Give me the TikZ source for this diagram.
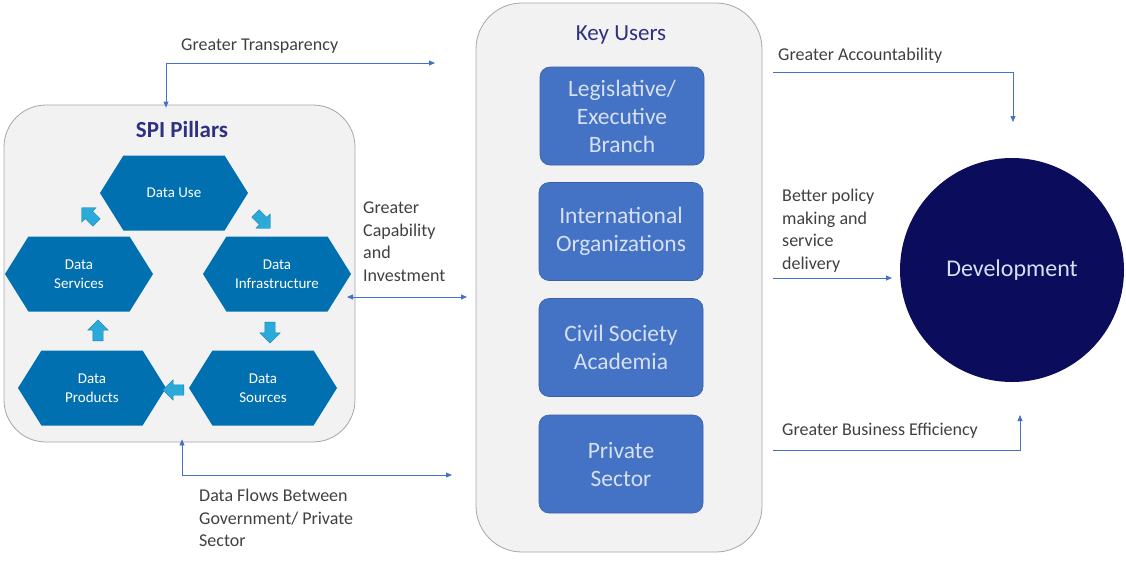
\documentclass[tikz,border=0pt]{standalone}
\usepackage{fontspec}
\setmainfont{Carlito}
\usetikzlibrary{shapes.symbols,shapes.arrows,arrows.meta}
\definecolor{hexblue}{HTML}{0070B0}
\definecolor{boxblue}{HTML}{4472C4}
\definecolor{boxtext}{HTML}{D6E0F2}
\definecolor{navy}{HTML}{0C0C5C}
\definecolor{titlec}{HTML}{2F3180}
\definecolor{contfill}{HTML}{F2F2F2}
\definecolor{contdraw}{HTML}{A6A6A6}
\definecolor{labelc}{HTML}{404040}
\definecolor{connc}{HTML}{4472C4}
\definecolor{cyanarr}{HTML}{2AAAD9}
\definecolor{cyanedge}{HTML}{1A80B8}
\begin{document}
\begin{tikzpicture}[x=1pt,y=-1pt,
  container/.style={draw=contdraw, line width=0.8pt, fill=contfill, rounded corners=42pt},
  hexa/.style={signal, signal to=east and west, signal pointer angle=116, fill=hexblue, draw=none,
     minimum width=148pt, minimum height=75pt, inner sep=0pt, text=white, align=center,
     font=\fontsize{15}{19}\selectfont},
  userbox/.style={draw=boxblue!85!black, line width=0.6pt, fill=boxblue, rounded corners=10pt, minimum width=164pt,
     minimum height=98pt, text=boxtext, align=center, font=\fontsize{23.5}{28}\selectfont},
  title/.style={text=titlec, font=\fontsize{23}{26}\selectfont},
  lbl/.style={text=labelc, align=left, font=\fontsize{18}{22.5}\selectfont, inner sep=0pt},
  cyc/.style={single arrow, fill=cyanarr, draw=cyanedge, line width=0.4pt, inner sep=5pt,
     single arrow head extend=5pt, minimum height=21pt},
  conn/.style={draw=connc, line width=0.8pt},
  tip/.style={-{Triangle[length=6pt,width=5pt]}},
  tips/.style={{Triangle[length=6pt,width=5pt]}-{Triangle[length=6pt,width=5pt]}}
]
\useasboundingbox (0,0) rectangle (1126,560);

% containers
\node[container, minimum width=351pt, minimum height=337pt] (spi) at (179.5,273.5) {};
\node[container, minimum width=286pt, minimum height=549pt, rounded corners=46pt] (users) at (619,277.5) {};

\node[title] (spititle) at (182,130) {\textbf{SPI Pillars}};
\node[title] (usertitle) at (621,35) {Key Users};

% hexagons
\node[hexa] (use) at (174,193) {Data Use};
\node[hexa] (serv) at (79,274) {Data\\Services};
\node[hexa] (infra) at (277,274) {Data\\Infrastructure};
\node[hexa] (prod) at (92,388) {Data\\Products};
\node[hexa] (src) at (263,388) {Data\\Sources};

% cycle arrows
\node[cyc, rotate=135] (c1) at (91,217) {};
\node[cyc, rotate=-45] (c2) at (261,219) {};
\node[cyc, rotate=-90] (c3) at (270,330) {};
\node[cyc, rotate=180] (c4) at (176,390) {};
\node[cyc, rotate=90] (c5) at (98,333) {};

% user boxes
\node[userbox] (leg) at (622,116) {Legislative/\\Executive\\Branch};
\node[userbox] (intl) at (621,231.5) {International\\Organizations};
\node[userbox] (civil) at (621,347.5) {Civil Society\\Academia};
\node[userbox] (priv) at (621,464) {Private\\Sector};

% development
\node[circle, fill=navy, minimum size=224pt, inner sep=0pt, text=boxtext,
      font=\fontsize{24}{26}\selectfont] (dev) at (1012,270) {Development};

% labels
\node[lbl, anchor=west] (ltr) at (181,46) {Greater Transparency};
\node[lbl, anchor=north west] (lcap) at (363,202) {Greater\\Capability\\and\\Investment};
\node[lbl, anchor=north west] (ldf) at (199,489) {Data Flows Between\\Government/ Private\\Sector};
\node[lbl, anchor=west] (lacc) at (778,56) {Greater Accountability};
\node[lbl, anchor=north west] (lbp) at (782,189) {Better policy\\making and\\service\\delivery};
\node[lbl, anchor=west] (lbe) at (782,431) {Greater Business Efficiency};

% connector coordinates
\coordinate (tr) at (166,63);
\coordinate (trend) at (435,63);
\coordinate (capL) at (347,297);
\coordinate (capR) at (467,297);
\coordinate (df) at (182,475);
\coordinate (dfend) at (452,475);
\coordinate (acc) at (773,72);
\coordinate (accc) at (1013,72);
\coordinate (accend) at (1013,122);
\coordinate (bp) at (773,278);
\coordinate (bpend) at (892,278);
\coordinate (be) at (773,450);
\coordinate (bec) at (1020,450);
\coordinate (beend) at (1020,415);

% connectors
\draw[conn, tips] ([yshift=-3pt]tr |- spi.north) -- (tr) -- (trend);
\draw[conn, tips] (capL) -- (capR);
\draw[conn, tips] ([yshift=3pt]df |- spi.south) -- (df) -- (dfend);
\draw[conn, tip] (acc) -- (accc) -- (accend);
\draw[conn, tip] (bp) -- (bpend);
\draw[conn, tip] (be) -- (bec) -- (beend);
\end{tikzpicture}
\end{document}
